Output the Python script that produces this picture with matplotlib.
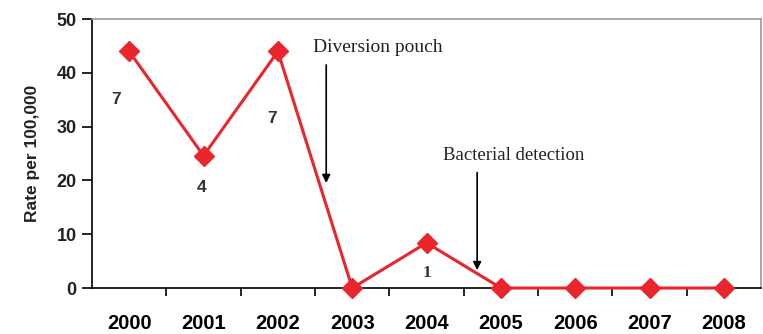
import matplotlib.pyplot as plt
import numpy as np

years = ["2000", "2001", "2002", "2003", "2004", "2005", "2006", "2007", "2008"]
rates = [44, 24.6, 44, 0, 8.4, 0, 0, 0, 0]
counts = ["7", "4", "7", "1"]
count_pos = [(-0.18, 35), (0.97, 18.6), (1.92, 31.6), (4.0, 2.8)]

RED = "#e8262b"
SANS = "Liberation Sans"
SERIF = "Liberation Serif"

fig = plt.figure(figsize=(7.63, 3.34), dpi=100)
ax = fig.add_axes([0.1206, 0.1377, 0.877, 0.805])

x = np.arange(len(years))
ax.plot(x, rates, color=RED, lw=2.2, marker="D", markersize=10,
        markerfacecolor=RED, markeredgecolor=RED, clip_on=False, zorder=3)

ax.set_xlim(-0.5, len(years) - 0.5)
ax.set_ylim(0, 50)
ax.set_yticks(range(0, 51, 10))
ax.set_xticks(np.arange(0.5, len(years) - 1, 1.0))
ax.set_xticklabels([])
ax.set_xticks(x, minor=True)
ax.set_xticklabels(years, minor=True, fontsize=14.5, fontweight="bold", family=SANS)
ax.tick_params(axis="x", which="minor", length=0, pad=19)
ax.tick_params(axis="x", which="major", length=6, width=1.2, direction="out")
ax.tick_params(axis="y", length=7, width=1.2, direction="out", pad=4)
for lab in ax.get_yticklabels():
    lab.set_fontsize(13)
    lab.set_fontweight("bold")
    lab.set_family(SANS)
    lab.set_color("#222222")

ax.set_ylabel("Rate per 100,000", fontsize=12.5, fontweight="bold",
              family=SANS, labelpad=12, color="#222222")

for s in ["left", "bottom"]:
    ax.spines[s].set_linewidth(1.2)
for s in ["top", "right"]:
    ax.spines[s].set_color("#9a9a9a")
    ax.spines[s].set_linewidth(1.2)

for i, (txt, (tx, ty)) in enumerate(zip(counts, count_pos)):
    ax.text(tx, ty, txt, fontsize=12.5, family=SERIF if i == 3 else SANS,
            ha="center", va="center", fontweight="bold", color="#333333")

ax.text(2.47, 44.8, "Diversion pouch", fontsize=14, family=SERIF,
        ha="left", va="center", color="#222222")
ax.annotate("", xy=(2.65, 19), xytext=(2.65, 42),
            arrowprops=dict(arrowstyle="-|>", color="black", lw=1.2, mutation_scale=12))

ax.text(4.22, 24.7, "Bacterial detection", fontsize=13.5, family=SERIF,
        ha="left", va="center", color="#222222")
ax.annotate("", xy=(4.68, 2.8), xytext=(4.68, 22),
            arrowprops=dict(arrowstyle="-|>", color="black", lw=1.2, mutation_scale=12))

fig.savefig("out.png", dpi=100, facecolor="white")
